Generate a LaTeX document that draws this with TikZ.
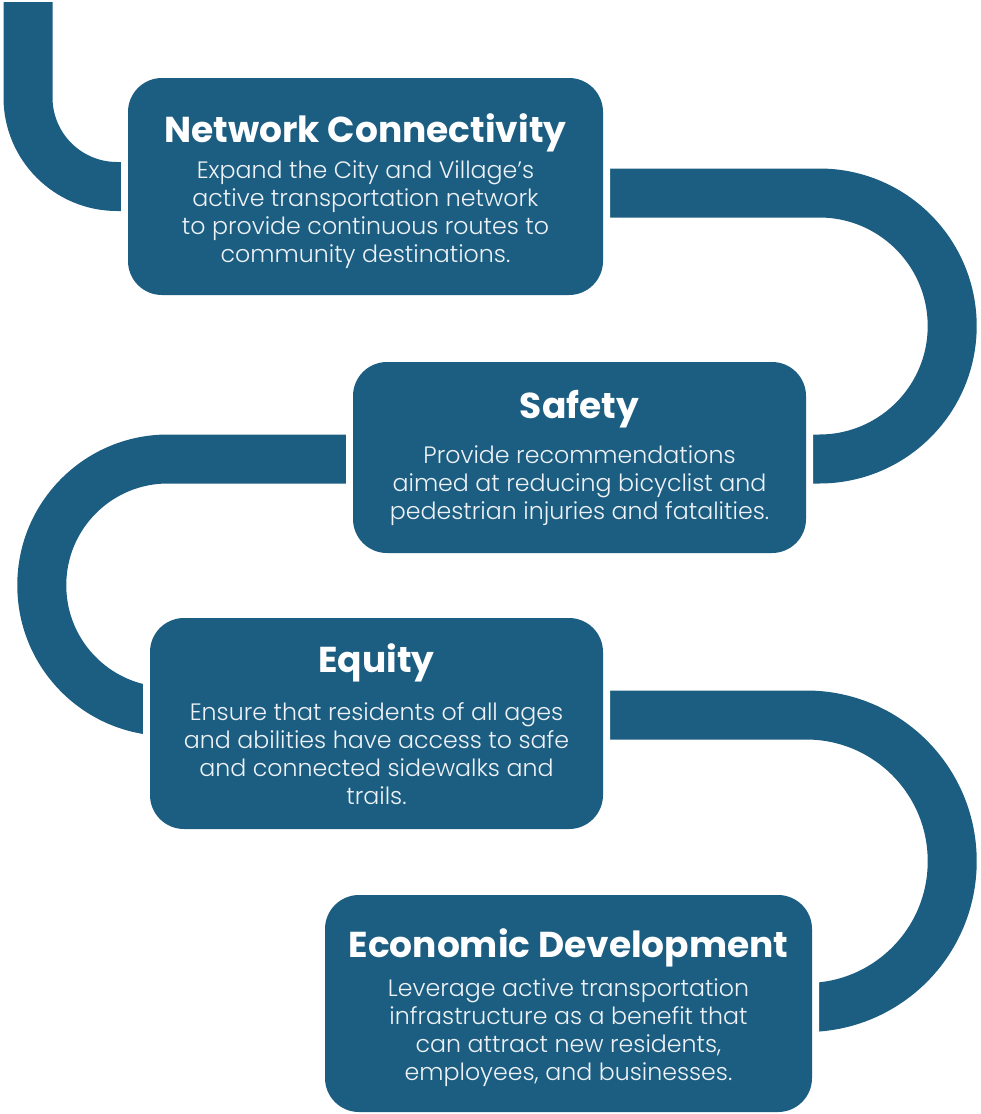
\documentclass[tikz,border=0pt]{standalone}
\usepackage{fontspec}
\setmainfont{Poppins}
\newfontfamily\lightfont{Poppins Light}
\usepackage{tikz}
\usetikzlibrary{backgrounds}
\usepackage{xcolor}
\definecolor{pathblue}{RGB}{28,94,130}
\definecolor{softwhite}{RGB}{238,242,246}

\begin{document}
\begin{tikzpicture}[x=1pt, y=-1pt]

		\tikzset{goal/.style = {shape=rectangle, rounded corners=34pt, fill=pathblue, inner sep=0pt, preaction={draw=white, line width=14pt}}}
		\tikzset{band/.style = {draw=pathblue, line width=49pt}}
		\tikzset{heading/.style = {anchor=base, inner sep=0pt, text=white, font=\fontsize{36}{40}\selectfont\bfseries}}
		\tikzset{blurb/.style = {anchor=base, inner sep=0pt, align=center, text=softwhite, font=\fontsize{23.7}{28}\selectfont\lightfont}}

		\useasboundingbox (0,0) rectangle (981,1114);

		% boxes
		\node[goal, minimum width=475pt, minimum height=217pt] (net) at (365.5,186.5) {};
		\node[goal, minimum width=453pt, minimum height=191pt] (safe) at (579.5,457.5) {};
		\node[goal, minimum width=453pt, minimum height=211pt] (eq) at (376.5,723.5) {};
		\node[goal, minimum width=487pt, minimum height=217pt] (econ) at (568.5,1003.5) {};

		% titles
		\node[heading] (nettitle) at ([yshift=-65pt]net.north) {Network Connectivity};
		\node[heading] (safetitle) at ([yshift=-57pt]safe.north) {Safety};
		\node[heading] (eqtitle) at ([yshift=-55pt]eq.north) {Equity};
		\node[heading] (econtitle) at ([yshift=-63pt]econ.north) {Economic Development};

		% texts (base is the last line)
		\node[blurb] (nettext) at ([yshift=-185pt]net.north) {Expand the City and Village’s\\active transportation network\\to provide continuous routes to\\community destinations.};
		\node[blurb] (safetext) at ([yshift=-158pt]safe.north) {Provide recommendations\\aimed at reducing bicyclist and\\pedestrian injuries and fatalities.};
		\node[blurb] (eqtext) at ([yshift=-187pt]eq.north) {Ensure that residents of all ages\\and abilities have access to safe\\and connected sidewalks and\\trails.};
		\node[blurb] (econtext) at ([yshift=-186pt]econ.north) {Leverage active transportation\\infrastructure as a benefit that\\can attract new residents,\\employees, and businesses.};

		% path between the boxes
		\coordinate (start) at (28,2);
		\begin{scope}[on background layer]
			\draw[band, rounded corners=89pt] (start) |- (net.west);
			\draw[band, rounded corners=133pt] ([yshift=-6.5pt]net.east) -- ++(349,0) |- ([yshift=-1.5pt]safe.east);
			\draw[band, rounded corners=126pt] ([yshift=-1.5pt]safe.west) -- ++(-311,0) |- ([xshift=40pt,yshift=12pt]eq.west);
			\draw[band, rounded corners=146pt] ([yshift=8.5pt]eq.east) -- ++(349,0) |- ([xshift=-40pt,yshift=-4pt]econ.east);
		\end{scope}

\end{tikzpicture}
\end{document}
